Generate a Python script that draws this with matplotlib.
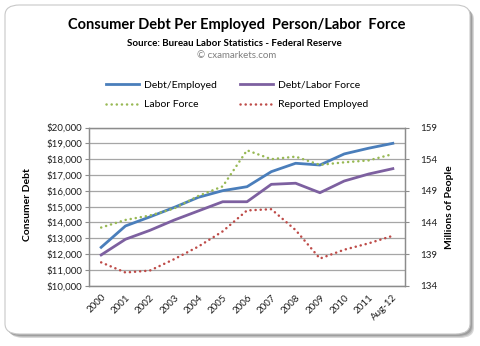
import matplotlib
matplotlib.use("Agg")
import matplotlib.pyplot as plt
from matplotlib.patches import FancyBboxPatch
from matplotlib.lines import Line2D

# ---- data ----
years = ["2000", "2001", "2002", "2003", "2004", "2005", "2006",
         "2007", "2008", "2009", "2010", "2011", "Aug-12"]
debt_per_employed = [12430, 13780, 14350, 14950, 15590, 16010, 16260,
                     17210, 17740, 17630, 18330, 18690, 19000]
debt_per_labor_force = [11950, 12940, 13500, 14150, 14730, 15310, 15310,
                        16410, 16480, 15880, 16620, 17060, 17400]
labor_force = [143.2, 144.4, 145.1, 146.2, 148.2, 149.7, 155.4,
               154.0, 154.4, 153.1, 153.5, 153.8, 154.8]
reported_employed = [137.7, 136.1, 136.4, 138.2, 140.2, 142.6, 145.9,
                     146.1, 142.8, 138.3, 139.7, 140.7, 141.9]
debt_ticks = list(range(10000, 20001, 1000))
people_ticks = [134, 139, 144, 149, 154, 159]

plt.rcParams["font.family"] = ["Lato", "DejaVu Sans"]

W, H = 480, 346
fig = plt.figure(figsize=(W / 100, H / 100), dpi=100)
fig.patch.set_facecolor("white")

def fx(px):
    return px / W

def fy(py):
    return 1 - py / H

# rounded frame with a soft shadow
box_w, box_h = 465 / W, (334 - 5) / H
for off, col in [(4, "#d8d8d8"), (3, "#bdbdbd"), (2, "#9e9e9e")]:
    sh = FancyBboxPatch((fx(5 + off), fy(334 + off)), box_w, box_h,
                        boxstyle="round,pad=0,rounding_size=0.03",
                        transform=fig.transFigure, facecolor=col,
                        edgecolor="none", zorder=0)
    fig.patches.append(sh)
frame = FancyBboxPatch((fx(5), fy(334)), box_w, box_h,
                       boxstyle="round,pad=0,rounding_size=0.03",
                       transform=fig.transFigure, facecolor="white",
                       edgecolor="#c8c8c8", linewidth=0.8, zorder=1)
fig.patches.append(frame)

# titles
fig.text(fx(237), fy(25), "Consumer Debt Per Employed  Person/Labor  Force",
         ha="center", va="center", fontsize=10.5, fontweight="bold", color="black")
fig.text(fx(234), fy(43), "Source: Bureau Labor Statistics - Federal Reserve",
         ha="center", va="center", fontsize=7, fontweight="bold", color="black")
fig.text(fx(237), fy(56), "\u00a9 cxamarkets.com",
         ha="center", va="center", fontsize=7, color="#7f7f7f")

# plot area
left_px, right_px, top_px, bot_px = 89, 405, 127.5, 285.8
ax = fig.add_axes([fx(left_px), fy(bot_px), fx(right_px - left_px),
                   (bot_px - top_px) / H])
ax.set_zorder(3)
ax.patch.set_visible(False)
ax2 = ax.twinx()

x = list(range(len(years)))
blue = "#4a7ebb"
purple = "#7d60a0"
green = "#98b954"
red = "#be4b48"

ax.plot(x, debt_per_employed, color=blue, lw=2.0, solid_joinstyle="round", zorder=4)
ax.plot(x, debt_per_labor_force, color=purple, lw=2.0, solid_joinstyle="round", zorder=4)
dot = (0, (0.05, 2.0))
ax2.plot(x, labor_force, color=green, lw=1.8, linestyle=dot,
         dash_capstyle="round", zorder=3)
ax2.plot(x, reported_employed, color=red, lw=1.8, linestyle=dot,
         dash_capstyle="round", zorder=3)

ax.set_xlim(-0.5, len(years) - 0.5)
ax.set_ylim(10000, 20000)
ax2.set_ylim(134, 159)
ax.set_yticks(debt_ticks)
ax.set_yticklabels([f"${v:,}" for v in debt_ticks])
ax2.set_yticks(people_ticks)
ax2.set_yticklabels([str(v) for v in people_ticks])
ax.set_xticks(x)
ax.set_xticklabels(years, rotation=45, ha="right", va="top",
                   rotation_mode="anchor")

ax.grid(axis="y", color="#a6a6a6", linewidth=0.9)
ax.set_axisbelow(True)
for a in (ax, ax2):
    for s in a.spines.values():
        s.set_color("#8c8c8c")
        s.set_linewidth(0.9)
ax.tick_params(axis="y", labelsize=7, length=3, color="#8c8c8c", pad=2,
               labelcolor="#1f1f1f")
ax.tick_params(axis="x", labelsize=7, length=0, pad=5, labelcolor="#1f1f1f")
ax2.tick_params(axis="y", labelsize=7, length=3, color="#8c8c8c", pad=8,
                labelcolor="#1f1f1f")

fig.text(fx(28), fy(205), "Consumer Debt", rotation=90, ha="center",
         va="center", fontsize=7.5, fontweight="bold")
fig.text(fx(449), fy(207), "Millions of People", rotation=90, ha="center",
         va="center", fontsize=7.5, fontweight="bold")

# legend
handles = [
    Line2D([], [], color=blue, lw=2.0),
    Line2D([], [], color=green, lw=1.8, linestyle=dot, dash_capstyle="round"),
    Line2D([], [], color=purple, lw=2.0),
    Line2D([], [], color=red, lw=1.8, linestyle=dot, dash_capstyle="round"),
]
labels = ["Debt/Employed", "Labor Force", "Debt/Labor Force", "Reported Employed"]
fig.legend(handles, labels, ncol=2, loc="center", frameon=False,
           bbox_to_anchor=(fx(237), fy(95)), fontsize=7.5,
           handlelength=3.2, handletextpad=0.45, columnspacing=2.2,
           labelspacing=1.0, borderpad=0)

fig.savefig("out.png", dpi=100, facecolor="white")
